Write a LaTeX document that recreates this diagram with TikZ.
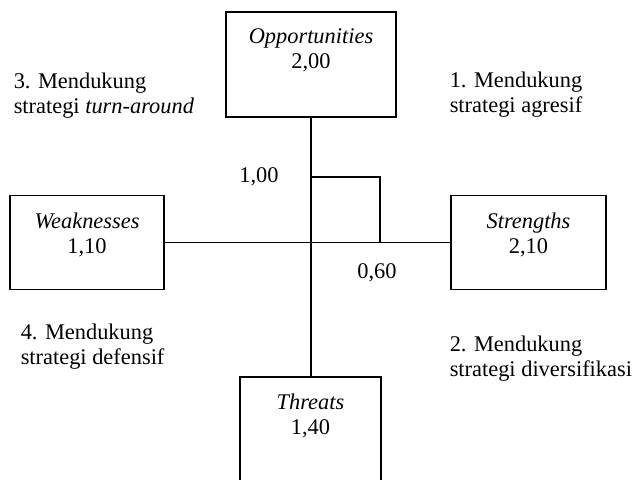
\documentclass[tikz,border=0pt]{standalone}
\usepackage{fontspec}
\setmainfont{Liberation Serif}
\usetikzlibrary{positioning}
\begin{document}
\begin{tikzpicture}[x=1pt, y=-1pt, line width=1.5pt, font=\fontsize{22.4}{24.5}\selectfont,
	quad/.style={draw, inner sep=0pt, minimum width=#1},
	quadtext/.style={align=center, inner sep=0pt, font=\fontsize{22.4}{25}\selectfont},
	stratext/.style={align=left, anchor=west, inner sep=0pt},
	value/.style={inner sep=0pt}]
	\clip (0,0) rectangle (636,479);
	\useasboundingbox (0,0) rectangle (636,479);
	\node[quad=170pt, minimum height=105pt] (opp) at (311,64.5) {};
	\node[quad=154pt, minimum height=94pt] (weak) at (87,242.5) {};
	\node[quad=155pt, minimum height=94pt] (str) at (528.5,242.5) {};
	\node[quad=141pt, minimum height=105pt] (thr) at (310.5,429.5) {};
	\node[quadtext, below=17pt of opp.north] (opptext) {\textit{Opportunities}\\2,00};
	\node[quadtext, below=17pt of weak.north] (weaktext) {\textit{Weaknesses}\\1,10};
	\node[quadtext, below=17pt of str.north] (strtext) {\textit{Strengths}\\2,10};
	\node[quadtext, below=17pt of thr.north] (thrtext) {\textit{Threats}\\1,40};
	\draw (opp.south) -- (opp.south |- thr.north);
	\draw (weak) -- (str);
	\coordinate (mid) at (opp.south |- str.west);
	\coordinate (pos) at (380,177);
	\draw (opp.south |- pos) -| (pos |- mid);
	\node[value] (vo) at (259,177) {1,00};
	\node[value] (vs) at (377,273) {0,60};
	\node[stratext] (q3) at (13,95.5) {3. Mendukung\\strategi \textit{turn-around}};
	\node[stratext] (q1) at (449,94.5) {1. Mendukung\\strategi agresif};
	\node[stratext] (q4) at (20,346.5) {4. Mendukung\\strategi defensif};
	\node[stratext] (q2) at (449,358.5) {2. Mendukung\\strategi diversifikasi};
\end{tikzpicture}
\end{document}
